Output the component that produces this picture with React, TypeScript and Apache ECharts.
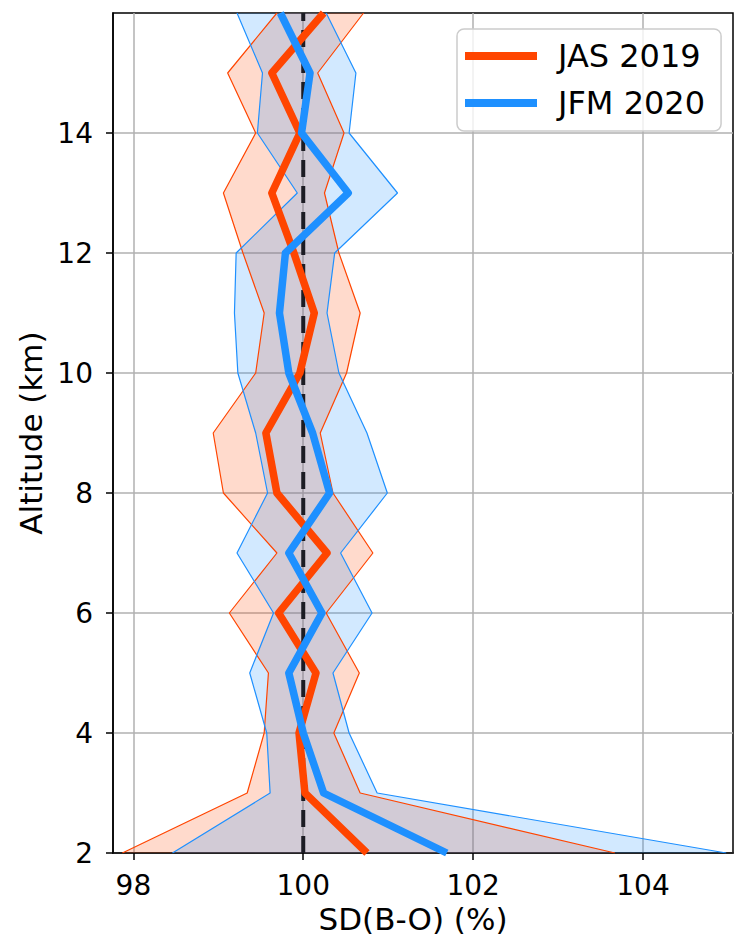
import React, { useEffect, useRef } from "react";
import * as echarts from "echarts";

// ---- data ----
const ALTITUDE_KM = [2, 3, 4, 5, 6, 7, 8, 9, 10, 11, 12, 13, 14, 15, 16];

const JAS_MEAN = [100.75, 100.02, 99.95, 100.15, 99.71, 100.28, 99.69, 99.56, 99.96, 100.13, 99.89, 99.63, 99.96, 99.63, 100.24];
const JAS_LOWER = [97.87, 99.34, 99.54, 99.59, 99.13, 99.69, 99.06, 98.94, 99.44, 99.54, 99.29, 99.06, 99.44, 99.11, 99.69];
const JAS_UPPER = [103.67, 100.67, 100.36, 100.66, 100.27, 100.82, 100.35, 100.2, 100.51, 100.67, 100.42, 100.25, 100.48, 100.17, 100.71];

const JFM_MEAN = [101.69, 100.24, 100.0, 99.83, 100.22, 99.83, 100.31, 100.11, 99.83, 99.72, 99.79, 100.53, 99.98, 100.08, 99.73];
const JFM_LOWER = [98.46, 99.61, 99.57, 99.37, 99.65, 99.22, 99.58, 99.44, 99.23, 99.19, 99.21, 99.93, 99.46, 99.52, 99.22];
const JFM_UPPER = [104.98, 100.87, 100.54, 100.35, 100.81, 100.44, 100.99, 100.75, 100.42, 100.28, 100.37, 101.11, 100.54, 100.62, 100.27];

const SERIES_NAMES = ["JAS 2019", "JFM 2020"];
const X_TICKS = [98, 100, 102, 104];
const Y_TICKS = [2, 4, 6, 8, 10, 12, 14];
const X_RANGE = [97.76, 105.06];
const Y_RANGE = [2, 16];
const REFERENCE_X = 100;

const X_LABEL = "SD(B-O) (%)";
const Y_LABEL = "Altitude (km)";

const ORANGE = "#FF4500";
const BLUE = "#1E90FF";
const FONT = "DejaVu Sans";

function pairs(xs: number[]) {
  return xs.map((x, i) => [x, ALTITUDE_KM[i]]);
}

function band(lower: number[], upper: number[], fill: string, z: number) {
  return {
    type: "custom",
    coordinateSystem: "cartesian2d",
    silent: true,
    z,
    clip: true,
    data: [[REFERENCE_X, ALTITUDE_KM[0]]],
    renderItem: (_params: any, api: any) => {
      const pts: number[][] = [];
      for (let i = 0; i < ALTITUDE_KM.length; i++) pts.push(api.coord([lower[i], ALTITUDE_KM[i]]));
      for (let i = ALTITUDE_KM.length - 1; i >= 0; i--) pts.push(api.coord([upper[i], ALTITUDE_KM[i]]));
      return { type: "polygon", shape: { points: pts }, style: { fill } };
    },
  };
}

function thin(values: number[], color: string, z: number) {
  return {
    type: "line",
    data: pairs(values),
    symbol: "none",
    silent: true,
    z,
    lineStyle: { color, width: 1.2 },
  };
}

function mean(name: string, values: number[], color: string, z: number) {
  return {
    name,
    type: "line",
    data: pairs(values),
    symbol: "none",
    z,
    itemStyle: { color },
    lineStyle: { color, width: 7.5, join: "round", cap: "butt" },
  };
}

export default function App() {
  const ref = useRef<HTMLDivElement>(null);

  useEffect(() => {
    if (!ref.current) return;
    const chart = echarts.init(ref.current, undefined, { renderer: "svg" });
    const option: any = {
      animation: false,
      textStyle: { fontFamily: FONT },
      grid: {
        left: 113,
        right: 2,
        top: 13,
        bottom: 87,
        show: true,
        borderColor: "#000",
        borderWidth: 1.5,
        backgroundColor: "transparent",
      },
      legend: {
        data: SERIES_NAMES,
        orient: "vertical",
        left: 457,
        top: 29,
        icon: "rect",
        itemWidth: 72,
        itemHeight: 8,
        itemGap: 15,
        padding: [11, 16, 12, 8],
        borderColor: "#cccccc",
        borderWidth: 1.5,
        borderRadius: 7,
        backgroundColor: "rgba(255,255,255,0.8)",
        textStyle: { fontFamily: FONT, fontSize: 32, color: "#000", lineHeight: 32, padding: [0, 0, 0, 16] },
      },
      xAxis: {
        type: "value",
        min: X_RANGE[0],
        max: X_RANGE[1],
        name: X_LABEL,
        nameLocation: "middle",
        nameGap: 50,
        nameTextStyle: { fontFamily: FONT, fontSize: 31, color: "#000", padding: [0, 20, 0, 0] },
        axisLine: { show: true, lineStyle: { color: "#000", width: 1.5 } },
        axisTick: { show: true, length: 7, lineStyle: { color: "#000", width: 1.5 }, customValues: X_TICKS },
        axisLabel: { fontFamily: FONT, fontSize: 28, color: "#000", margin: 18, customValues: X_TICKS },
        splitLine: { show: true, lineStyle: { color: "#b0b0b0", width: 1.5 } },
      },
      yAxis: {
        type: "value",
        min: Y_RANGE[0],
        max: Y_RANGE[1],
        name: Y_LABEL,
        nameLocation: "middle",
        nameGap: 62,
        nameTextStyle: { fontFamily: FONT, fontSize: 31, color: "#000" },
        axisLine: { show: true, lineStyle: { color: "#000", width: 1.5 } },
        axisTick: { show: true, length: 7, lineStyle: { color: "#000", width: 1.5 }, customValues: Y_TICKS },
        axisLabel: { fontFamily: FONT, fontSize: 28, color: "#000", margin: 20, customValues: Y_TICKS },
        splitLine: { show: true, lineStyle: { color: "#b0b0b0", width: 1.5 } },
      },
      series: [
        band(JAS_LOWER, JAS_UPPER, "rgba(255,69,0,0.2)", 1),
        band(JFM_LOWER, JFM_UPPER, "rgba(30,144,255,0.2)", 2),
        thin(JAS_LOWER, ORANGE, 3),
        thin(JAS_UPPER, ORANGE, 3),
        thin(JFM_LOWER, BLUE, 3),
        thin(JFM_UPPER, BLUE, 3),
        {
          type: "line",
          data: [
            [REFERENCE_X, Y_RANGE[0]],
            [REFERENCE_X, Y_RANGE[1]],
          ],
          symbol: "none",
          silent: true,
          z: 4,
          lineStyle: { color: "#1c1c24", width: 4, type: [17, 9] },
        },
        mean(SERIES_NAMES[0], JAS_MEAN, ORANGE, 5),
        mean(SERIES_NAMES[1], JFM_MEAN, BLUE, 6),
      ],
    };
    chart.setOption(option);
    return () => chart.dispose();
  }, []);

  return (
    <div
      ref={ref}
      style={{ position: "fixed", left: 0, top: 0, width: 735, height: 940, background: "#fff" }}
    />
  );
}
